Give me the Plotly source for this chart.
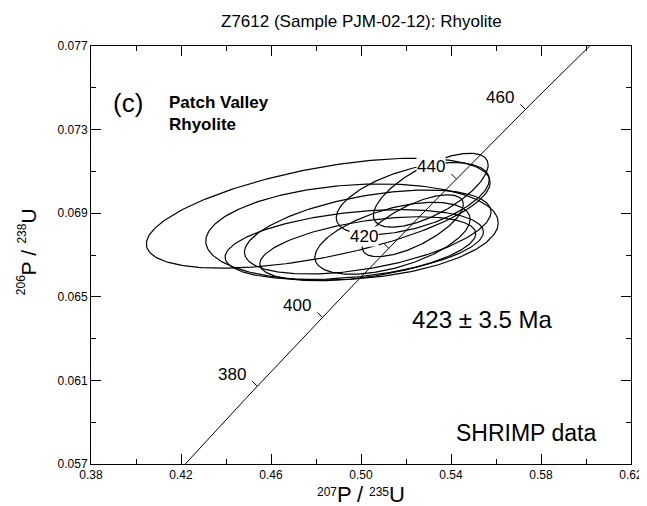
import numpy as np
import plotly.graph_objects as go

# ---- Data -------------------------------------------------------------
# U-Pb decay constants (1/yr) used to place the concordia reference curve
LAMBDA_238 = 1.55125e-10
LAMBDA_235 = 9.8485e-10

# Labelled concordia ages (Ma)
concordia_ages = [380, 400, 420, 440, 460]
# Age span of the drawn concordia curve (Ma)
concordia_span = [350, 490]

# Error ellipses (207Pb/235U vs 206Pb/238U): centres, half-widths, correlation
ell_cx = [0.481, 0.496, 0.497, 0.503, 0.503, 0.514, 0.523, 0.531, 0.523]
ell_cy = [0.0690, 0.0681, 0.0675, 0.0681, 0.0673, 0.0678, 0.0697, 0.0701, 0.0684]
ell_sx = [0.0764, 0.0650, 0.0574, 0.0548, 0.0480, 0.0345, 0.0340, 0.0255, 0.0225]
ell_sy = [0.00263, 0.00230, 0.00167, 0.00201, 0.00153, 0.00172, 0.00172, 0.00177, 0.00148]
ell_rho = [0.56, 0.19, 0.36, 0.48, 0.47, 0.53, 0.53, 0.68, 0.69]

x_ticks = [0.38, 0.42, 0.46, 0.50, 0.54, 0.58, 0.62]
x_minor = [0.40, 0.44, 0.48, 0.52, 0.56, 0.60]
y_ticks = [0.057, 0.061, 0.065, 0.069, 0.073, 0.077]
y_minor = [0.059, 0.063, 0.067, 0.071, 0.075]

title_text = "Z7612 (Sample PJM-02-12): Rhyolite"
panel_text = "(c)"
unit_text = "Patch Valley<br>Rhyolite"
age_text = "423 ± 3.5 Ma"
method_text = "SHRIMP data"
# axis titles: (superscript mass number, element symbol) pairs
x_title_parts = [("207", "P"), ("235", "U")]
y_title_parts = [("206", "P"), ("238", "U")]

FONT = "Liberation Sans, Arial, Helvetica, sans-serif"

# ---- Layout geometry (pixels) -----------------------------------------
W, H = 647, 506
ML, MR, MT, MB = 83, 14, 38, 50
PW, PH = W - ML - MR, H - MT - MB


def pxx(px):
    return (px - ML) / PW


def pxy(py):
    return (MT + PH - py) / PH


# ---- Figure -----------------------------------------------------------
fig = go.Figure()

# Concordia curve
t = np.linspace(concordia_span[0], concordia_span[1], 300) * 1e6
fig.add_trace(go.Scatter(
    x=np.exp(LAMBDA_235 * t) - 1, y=np.exp(LAMBDA_238 * t) - 1,
    mode="lines", line=dict(color="black", width=1), hoverinfo="skip"))

# Error ellipses
theta = np.linspace(0, 2 * np.pi, 240)
for cx, cy, sx, sy, r in zip(ell_cx, ell_cy, ell_sx, ell_sy, ell_rho):
    ex = cx + sx * np.cos(theta)
    ey = cy + sy * (r * np.cos(theta) + np.sqrt(1 - r * r) * np.sin(theta))
    fig.add_trace(go.Scatter(x=ex, y=ey, mode="lines",
                             line=dict(color="black", width=1.2),
                             hoverinfo="skip"))

# Concordia age ticks and labels
for age in concordia_ages:
    tt = age * 1e6
    ax_ = float(np.exp(LAMBDA_235 * tt) - 1)
    ay_ = float(np.exp(LAMBDA_238 * tt) - 1)
    fig.add_shape(type="line", xref="x", yref="y",
                  xsizemode="pixel", ysizemode="pixel",
                  xanchor=ax_, yanchor=ay_, x0=0, y0=0, x1=-5, y1=5,
                  line=dict(color="black", width=1))
    fig.add_annotation(x=ax_, y=ay_, xref="x", yref="y", text=str(age),
                       showarrow=False, xshift=-25, yshift=12,
                       bgcolor="white", borderpad=0,
                       font=dict(size=17, family=FONT, color="black"))


def note(text, px, py, size, bold=False, xanchor="center", angle=0):
    fig.add_annotation(xref="paper", yref="paper", x=pxx(px), y=pxy(py),
                       text=f"<b>{text}</b>" if bold else text,
                       showarrow=False, xanchor=xanchor, yanchor="middle",
                       align="left", textangle=angle,
                       font=dict(size=size, family=FONT, color="black"))


# In-plot labels
note(panel_text, 121, 95, 26)
note(unit_text, 160, 106, 17, bold=True, xanchor="left")
note(age_text, 482, 311, 24)
note(method_text, 526, 425, 23)
# Title
note(title_text, ML + PW / 2, 14, 17)

# Axis titles built from pieces: small raised mass numbers + larger symbols
MAIN, SUP = 22, 12
EM = {"P": 0.667, "U": 0.722, "/": 0.834, "d": 0.556}


def title_pieces(parts, main, sup):
    pieces = []
    for i, (mass, sym) in enumerate(parts):
        pieces.append((mass, sup, 3 * EM["d"] * sup, True))
        pieces.append((sym, main, EM[sym] * main, False))
        if i < len(parts) - 1:
            pieces.append(("/", main, EM["/"] * main, False))
    return pieces


# x axis title (horizontal), centred under the plot
xp = title_pieces(x_title_parts, MAIN, SUP)
cur = ML + PW / 2 - sum(p[2] for p in xp) / 2
for text, size, w, is_sup in xp:
    note(text, cur + w / 2, 483.5 if is_sup else 487, size)
    cur += w

# y axis title (rotated), reading bottom to top
yp = title_pieces(y_title_parts, 21, SUP)
cur = 244 + sum(p[2] for p in yp) / 2
for text, size, w, is_sup in yp:
    note(text, 12.5 if is_sup else 19, cur - w / 2, size, angle=-90)
    cur -= w

axis_common = dict(ticks="inside", ticklen=10, tickwidth=1, tickcolor="black",
                   showline=True, linecolor="black", linewidth=1,
                   mirror="allticks", showgrid=False, zeroline=False,
                   tickfont=dict(size=12, family=FONT, color="black"))

fig.update_xaxes(range=[0.38, 0.62], tickvals=x_ticks,
                 ticktext=[f"{v:.2f}" for v in x_ticks],
                 minor=dict(tickvals=x_minor, ticks="inside", ticklen=5,
                            tickcolor="black", tickwidth=1, showgrid=False),
                 **axis_common)
fig.update_yaxes(range=[0.057, 0.077], tickvals=y_ticks,
                 ticktext=[f"{v:.3f}" for v in y_ticks],
                 minor=dict(tickvals=y_minor, ticks="inside", ticklen=5,
                            tickcolor="black", tickwidth=1, showgrid=False),
                 **axis_common)

fig.update_layout(width=W, height=H,
                  margin=dict(l=ML, r=MR, t=MT, b=MB),
                  plot_bgcolor="white", paper_bgcolor="white",
                  showlegend=False,
                  font=dict(family=FONT, color="black"))

fig.write_html("out.html")
